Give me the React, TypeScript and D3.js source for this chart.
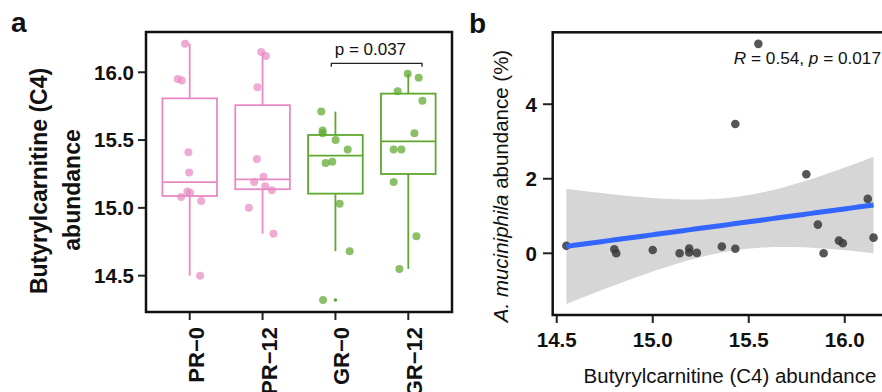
import React from "react";
import * as d3 from "d3";

// ---------- Panel a data ----------
const groups = ["PR−0", "PR−12", "GR−0", "GR−12"];
const groupColors = ["#E78AC3", "#E78AC3", "#5FA82E", "#5FA82E"];
const pr0Values = [16.21, 15.95, 15.94, 15.41, 15.26, 15.12, 15.11, 15.08, 15.05, 14.5];
const pr0Jitter = [-0.063, -0.164, -0.109, -0.018, -0.008, -0.032, 0.005, -0.118, 0.157, 0.143];
const pr12Values = [16.15, 16.12, 15.89, 15.36, 15.23, 15.19, 15.16, 15.13, 15.0, 14.81];
const pr12Jitter = [-0.019, 0.045, -0.07, -0.078, 0.012, -0.115, 0.036, 0.128, -0.188, 0.15];
const gr0Values = [15.71, 15.57, 15.55, 15.5, 15.43, 15.34, 15.33, 15.03, 14.68, 14.32];
const gr0Jitter = [-0.194, -0.176, -0.176, 0.003, 0.168, -0.043, -0.135, 0.058, 0.195, -0.17];
const gr12Values = [15.99, 15.96, 15.86, 15.79, 15.55, 15.43, 15.43, 15.19, 14.79, 14.55];
const gr12Jitter = [-0.008, 0.143, -0.146, 0.194, 0.084, -0.201, -0.095, -0.201, 0.111, -0.122];
const groupValues = [pr0Values, pr12Values, gr0Values, gr12Values];
const groupJitter = [pr0Jitter, pr12Jitter, gr0Jitter, gr12Jitter];
const yTicksA = [14.5, 15.0, 15.5, 16.0];
const pValueLabel = "p = 0.037";
const bracketFrom = 2.944; // category units
const bracketTo = 4.188;
const bracketValue = 16.066;
const bracketTipValue = 16.04;
const pLabelValue = 16.128;
const pLabelPos = 3.48;

// ---------- Panel b data ----------
const scatterX = [15.55, 15.43, 15.8, 16.12, 14.55, 14.8, 14.81, 15.0, 15.14, 15.19, 15.19, 15.23, 15.36, 15.43, 15.86, 15.89, 15.97, 15.99, 16.15];
const scatterY = [5.62, 3.47, 2.12, 1.46, 0.2, 0.11, 0.0, 0.09, 0.0, 0.13, 0.02, 0.01, 0.18, 0.12, 0.77, 0.0, 0.34, 0.27, 0.42];
const xTicksB = [14.5, 15.0, 15.5, 16.0];
const yTicksB = [0, 2, 4];
const tCrit = 2.1098; // qt(0.975, df = 17)

const BOLD = "'Liberation Sans', Arial, sans-serif";
const REG = "'Liberation Sans', Arial, sans-serif";

function boxStats(vals: number[]) {
  const s = [...vals].sort(d3.ascending);
  const q1 = d3.quantile(s, 0.25)!;
  const med = d3.quantile(s, 0.5)!;
  const q3 = d3.quantile(s, 0.75)!;
  const iqr = q3 - q1;
  const lo = d3.min(s.filter((v) => v >= q1 - 1.5 * iqr))!;
  const hi = d3.max(s.filter((v) => v <= q3 + 1.5 * iqr))!;
  const out = s.filter((v) => v < q1 - 1.5 * iqr || v > q3 + 1.5 * iqr);
  return { q1, med, q3, lo, hi, out };
}

export default function App() {
  // Panel a scales
  const xA = d3.scaleLinear().domain([0.4, 4.6]).range([146, 452]);
  const yA = d3.scaleLinear().domain([14.232, 16.297]).range([312, 32]);
  const boxHalf = 0.375;

  // Panel b scales
  const xB = d3.scaleLinear().domain([14.479, 16.293]).range([552.7, 901]);
  const yB = d3.scaleLinear().domain([-1.656, 5.93]).range([315, 32.3]);

  // regression
  const n = scatterX.length;
  const mx = d3.mean(scatterX)!;
  const my = d3.mean(scatterY)!;
  let sxx = 0,
    sxy = 0;
  for (let i = 0; i < n; i++) {
    sxx += (scatterX[i] - mx) ** 2;
    sxy += (scatterX[i] - mx) * (scatterY[i] - my);
  }
  const slope = sxy / sxx;
  const intercept = my - slope * mx;
  let sse = 0;
  for (let i = 0; i < n; i++) sse += (scatterY[i] - (intercept + slope * scatterX[i])) ** 2;
  const sRes = Math.sqrt(sse / (n - 2));
  const [xmin, xmax] = d3.extent(scatterX) as [number, number];
  const fitPts = d3.range(80).map((i) => {
    const x = xmin + ((xmax - xmin) * i) / 79;
    const fit = intercept + slope * x;
    const se = sRes * Math.sqrt(1 / n + (x - mx) ** 2 / sxx);
    return { x, fit, lo: fit - tCrit * se, hi: fit + tCrit * se };
  });
  const bandPath = d3
    .area<any>()
    .x((d) => xB(d.x))
    .y0((d) => yB(d.lo))
    .y1((d) => yB(d.hi))(fitPts)!;
  const linePath = d3
    .line<any>()
    .x((d) => xB(d.x))
    .y((d) => yB(d.fit))(fitPts)!;

  return (
    <svg
      width={882}
      height={392}
      style={{ position: "absolute", left: 0, top: 0, background: "#fff" }}
    >
      <rect x={0} y={0} width={882} height={392} fill="#fff" />
      {/* ---------------- Panel a ---------------- */}
      <text x={11} y={32} fontFamily={REG} fontWeight="bold" fontSize={28} fill="#111">
        a
      </text>
      {/* y title */}
      <text
        transform={`translate(47,181) rotate(-90)`}
        textAnchor="middle"
        fontFamily={BOLD}
        fontWeight="bold"
        fontSize={23}
        fill="#111"
      >
        Butyrylcarnitine (C4)
      </text>
      <text
        transform={`translate(80,190) rotate(-90)`}
        textAnchor="middle"
        fontFamily={BOLD}
        fontWeight="bold"
        fontSize={23}
        fill="#111"
      >
        abundance
      </text>
      {/* y ticks */}
      {yTicksA.map((t) => (
        <g key={"ya" + t}>
          <line x1={138} x2={146} y1={yA(t)} y2={yA(t)} stroke="#222" strokeWidth={2} />
          <text
            x={134}
            y={yA(t) + 7.3}
            textAnchor="end"
            fontFamily={BOLD}
            fontWeight="bold"
            fontSize={20.5}
            fill="#111"
          >
            {t.toFixed(1)}
          </text>
        </g>
      ))}
      {/* x ticks */}
      {groups.map((g, i) => (
        <g key={"xa" + g}>
          <line x1={xA(i + 1)} x2={xA(i + 1)} y1={312} y2={320} stroke="#222" strokeWidth={2} />
          <text
            transform={`translate(${xA(i + 1) + 14},327) rotate(-90)`}
            textAnchor="end"
            fontFamily={BOLD}
            fontWeight="bold"
            fontSize={22}
            fill="#111"
          >
            {g}
          </text>
        </g>
      ))}
      {/* boxes */}
      {groupValues.map((vals, i) => {
        const st = boxStats(vals);
        const cx = xA(i + 1);
        const x0 = xA(i + 1 - boxHalf);
        const x1 = xA(i + 1 + boxHalf);
        const col = groupColors[i];
        return (
          <g key={"box" + i} stroke={col} strokeWidth={1.8} fill="none">
            <line x1={cx} x2={cx} y1={yA(st.q3)} y2={yA(st.hi)} />
            <line x1={cx} x2={cx} y1={yA(st.q1)} y2={yA(st.lo)} />
            <rect x={x0} y={yA(st.q3)} width={x1 - x0} height={yA(st.q1) - yA(st.q3)} fill="#fff" />
            <line x1={x0} x2={x1} y1={yA(st.med)} y2={yA(st.med)} />
            {st.out.map((o, k) => (
              <circle key={k} cx={cx} cy={yA(o)} r={1.8} fill={col} stroke="none" />
            ))}
          </g>
        );
      })}
      {/* jitter points */}
      {groupValues.map((vals, i) =>
        vals.map((v, k) => (
          <circle
            key={"pt" + i + "-" + k}
            cx={xA(i + 1 + groupJitter[i][k])}
            cy={yA(v)}
            r={4}
            fill={groupColors[i]}
            fillOpacity={0.72}
          />
        ))
      )}
      {/* significance bracket */}
      <path
        d={`M${xA(bracketFrom)},${yA(bracketTipValue)} V${yA(bracketValue)} H${xA(bracketTo)} V${yA(bracketTipValue)}`}
        fill="none"
        stroke="#222"
        strokeWidth={1.3}
      />
      <text x={xA(pLabelPos)} y={yA(pLabelValue)} textAnchor="middle" fontFamily={REG} fontSize={17} fill="#111">
        {pValueLabel}
      </text>
      <rect x={146} y={32} width={306} height={280} fill="none" stroke="#111" strokeWidth={2.5} />

      {/* ---------------- Panel b ---------------- */}
      <text x={469} y={33} fontFamily={REG} fontWeight="bold" fontSize={28} fill="#111">
        b
      </text>
      <path d={bandPath} fill="#999" fillOpacity={0.4} />
      {scatterX.map((x, i) => (
        <circle key={"sc" + i} cx={xB(x)} cy={yB(scatterY[i])} r={4.3} fill="#3a3a3a" fillOpacity={0.85} />
      ))}
      <path d={linePath} fill="none" stroke="#3366FF" strokeWidth={5} />
      <text x={881} y={64} textAnchor="end" fontFamily={REG} fontSize={17.2} fill="#111">
        <tspan fontStyle="italic">R</tspan>
        {" = 0.54, "}
        <tspan fontStyle="italic">p</tspan>
        {" = 0.017"}
      </text>
      {/* y ticks */}
      {yTicksB.map((t) => (
        <g key={"yb" + t}>
          <line x1={543} x2={552.7} y1={yB(t)} y2={yB(t)} stroke="#222" strokeWidth={2} />
          <text
            x={537}
            y={yB(t) + 7.3}
            textAnchor="end"
            fontFamily={BOLD}
            fontWeight="bold"
            fontSize={20.5}
            fill="#111"
          >
            {t}
          </text>
        </g>
      ))}
      {/* x ticks */}
      {xTicksB.map((t) => (
        <g key={"xb" + t}>
          <line x1={xB(t)} x2={xB(t)} y1={315} y2={323} stroke="#222" strokeWidth={2} />
          <text
            x={xB(t)}
            y={346.5}
            textAnchor="middle"
            fontFamily={BOLD}
            fontWeight="bold"
            fontSize={20.5}
            fill="#111"
          >
            {t.toFixed(1)}
          </text>
        </g>
      ))}
      <rect x={552.7} y={32.3} width={400} height={282.7} fill="none" stroke="#111" strokeWidth={2.5} />
      <text
        transform={`translate(508,186) rotate(-90)`}
        textAnchor="middle"
        fontFamily={REG}
        fontSize={20.5}
        fill="#111"
      >
        <tspan fontStyle="italic">A. muciniphila</tspan>
        {" abundance (%)"}
      </text>
      <text x={730} y={383} textAnchor="middle" fontFamily={REG} fontSize={20.5} fill="#111">
        Butyrylcarnitine (C4) abundance
      </text>
    </svg>
  );
}
